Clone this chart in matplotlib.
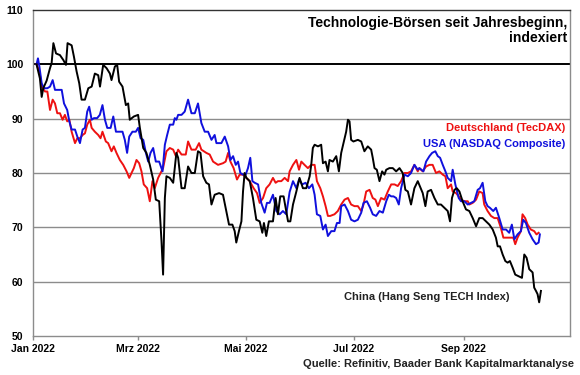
import numpy as np
import matplotlib
matplotlib.use("Agg")
import matplotlib.pyplot as plt
import matplotlib.dates as mdates

plt.rcParams['font.family'] = ['Liberation Sans', 'DejaVu Sans']

# ---- data: days since 2022-01-01 and index values (start = 100) ----
china_days = [2, 3.9, 4.9, 5.8, 7.7, 9.6, 10.5, 11.5, 13.0, 15.2, 17.1, 18.6, 19.5, 21.8, 23.1, 24.6,
              26.1, 27.4, 29.3, 31.2, 33.1, 34.9, 36.8, 37.8, 39.6, 41.5, 43.4, 44.3, 46.2, 47.5, 48.6,
              50.5, 52.4, 53.7, 54.6, 56.9, 59.3, 60.3, 62.2, 64.0, 65.9, 67.8, 69.3, 71.2, 72.5, 73.4,
              74.4, 75.3, 77.2, 79.1, 80.9, 81.9, 83.8, 85.6, 87.5, 89.4, 91.3, 93.1, 94.5, 96.0, 97.8,
              99.3, 100.7, 102.5, 105.0, 107.2, 108.7, 110.6, 112.5, 113.8, 114.7, 116.2, 117.6, 118.5,
              119.4, 120.4, 122.3, 124.1, 126.0, 127.9, 129.4, 130.3, 131.6, 133.1, 135.4, 136.9, 138.2,
              139.5, 141.4, 142.9, 143.9, 145.2,
              146.7, 148.6, 150.4, 152.3, 154.2, 156.1, 157.0, 157.9, 158.9, 160.8, 162.6, 163.6, 165.1,
              166.4, 167.3, 169.2, 171.1, 172.6, 173.9, 175.2, 176.7, 177.7, 178.6, 179.5, 180.8, 183.3,
              185.2, 187.0, 188.9, 190.8, 191.7, 192.7, 194.0, 195.5, 197.0, 198.3, 199.3, 201.1, 203.0,
              204.9, 206.8, 208.6, 210.1, 211.5, 213.3, 215.2, 217.1,
              219.9, 221.4, 222.7, 224.6, 226.5, 228.4, 230.2, 232.1, 234.0, 235.3, 236.4, 237.8, 239.1,
              240.6, 242.4, 244.3, 246.2, 248.1, 250.0, 251.8, 253.7, 255.6, 257.5, 259.4, 261.2, 262.2,
              263.5, 265.0, 266.5, 267.8, 269.1, 270.6, 272.1, 274.0, 275.9, 277.2, 278.5, 280.0, 281.9,
              282.8, 283.8, 284.7, 285.6, 286.6]
china_vals = [100, 97.4, 94.0, 95.6, 97.0, 99.3, 100.2, 103.9, 102.0, 101.7, 100.8, 99.9, 103.9, 103.5,
              101.4, 98.7, 96.5, 93.5, 93.5, 95.6, 95.9, 98.3, 98.0, 95.9, 99.9, 99.3, 98.3, 97.1, 99.6,
              99.9, 96.8, 95.9, 92.5, 92.8, 89.8, 90.4, 90.7, 88.3, 84.6, 83.7, 81.5, 78.8, 75.1, 74.8,
              67.5, 61.3,
              75.4, 79.4, 79.1, 78.2, 83.7, 82.8, 77.2, 77.2, 81.2, 80.0, 80.0, 84.0, 83.7, 79.4, 78.2,
              77.9, 74.2, 76.0, 76.3, 76.0, 73.6, 70.5, 70.5, 69.3, 67.2, 69.3, 71.1, 76.6, 80.0, 79.1,
              78.5, 75.4, 71.4, 71.1, 69.0, 70.8, 68.4, 71.1, 71.1, 75.4, 72.4, 75.7, 75.7, 73.0, 71.1,
              71.1,
              74.2, 76.6, 79.1, 77.2, 77.2, 79.4, 81.5, 84.6, 85.2, 84.9, 85.2, 81.8, 82.1, 80.3, 82.4,
              82.1, 83.1, 80.3, 83.7, 85.5, 87.6, 89.8, 89.5, 86.1, 85.8, 86.1, 85.8, 84.0, 84.9, 84.3,
              82.8, 80.9, 80.6, 78.5, 80.3, 79.7, 80.6, 80.9, 80.9, 80.3, 80.9, 80.0, 76.9, 76.6, 74.2,
              77.2, 78.5,
              76.3, 73.9, 76.6, 76.9, 75.4, 74.2, 74.2, 73.6, 73.0, 71.1, 75.4, 76.9, 77.2, 76.6, 74.8,
              73.3, 73.0, 71.7, 70.2, 71.7, 71.7, 71.1, 70.5, 69.6, 68.1, 66.5, 66.5, 65.0, 63.8, 63.5,
              63.8, 62.6, 61.3, 61.0, 60.7, 65.0, 64.4, 62.3, 61.7, 58.9, 58.3, 57.7, 56.2, 58.3]

germany_days = [2, 3.6, 4.9, 6.8, 8.1, 9.6, 11.1, 12.4, 13.7, 15.2, 16.7, 18.0, 19.3, 20.5, 21.8, 23.7,
                25.0, 26.5, 28.0, 29.3, 30.6, 32.1, 33.1, 34.9, 36.8, 38.1, 39.2, 41.1, 42.4, 44.3, 45.6,
                47.1, 49.0, 50.9, 52.8, 54.3, 55.6, 56.9, 58.4, 59.9, 61.2, 62.5, 64.4, 65.9, 67.4, 68.7,
                70.6,
                73.4, 75.3, 77.2, 79.1, 80.6, 81.9, 83.8, 86.2, 87.5, 89.4, 91.8, 93.7, 95.0, 97.8, 99.7,
                101.6, 104.4, 107.2, 108.7, 110.1, 111.4, 113.2, 115.1, 116.6, 118.5, 120.4, 122.3, 124.5,
                126.4, 127.9, 129.8, 131.6, 133.5, 135.4, 136.9, 138.2, 140.1, 142.0, 143.9,
                144.8, 146.7, 148.6, 150.1, 151.4, 153.2, 155.1, 157.0, 158.9, 160.2, 162.1, 163.6, 165.1,
                166.4, 167.7, 170.1, 172.0, 173.9, 175.8, 177.7, 179.5, 181.4, 183.3, 185.2, 186.5, 188.0,
                189.9, 191.7, 193.2, 194.6, 196.4, 198.3, 200.2, 202.1, 204.0, 205.8, 207.7, 209.6, 211.5,
                213.3, 215.2, 217.1,
                218.0, 219.9, 221.8, 223.7, 225.5, 227.4, 229.3, 231.2, 232.7, 234.0, 235.9, 236.8, 238.7,
                240.2, 241.5, 243.4, 245.3, 246.2, 248.1, 250.0, 251.8, 253.7, 254.6, 256.5, 258.4, 260.3,
                262.2, 264.0, 265.4, 267.2, 269.1, 271.0, 272.1, 273.4, 275.3, 276.2, 277.7, 279.1, 280.9,
                282.8, 284.1, 285.3]
germany_vals = [100, 98.7, 95.9, 95.0, 95.0, 91.6, 93.5, 92.8, 91.0, 91.0, 89.8, 90.7, 89.5, 89.8, 87.6,
                85.5, 86.4, 86.4, 87.0, 87.3, 88.9, 89.8, 88.3, 87.6, 87.0, 86.4, 87.6, 85.8, 85.5, 84.0,
                84.9, 83.7, 82.4, 81.5, 80.3, 79.1, 80.0, 80.9, 82.4, 81.8, 80.3, 77.9, 77.2, 74.8, 78.5,
                77.2, 79.1,
                80.9, 84.0, 84.6, 84.3, 83.1, 84.3, 83.4, 83.4, 85.8, 84.3, 84.3, 85.5, 84.3, 83.7, 83.4,
                82.1, 81.5, 81.8, 82.1, 83.7, 82.1, 80.9, 78.8, 79.7, 79.7, 79.1, 78.5, 77.2, 76.3, 74.5,
                75.4, 77.2, 77.9, 79.1, 78.2, 78.5, 78.5, 79.1, 78.5,
                80.3, 81.5, 82.4, 80.6, 82.1, 81.5, 80.9, 81.5, 81.5, 78.5, 77.2, 75.7, 73.9, 72.1, 72.1,
                72.4, 73.0, 74.2, 75.1, 75.4, 74.2, 73.9, 73.9, 73.0, 74.2, 76.6, 76.9, 75.4, 75.1, 73.9,
                75.4, 75.1, 76.6, 77.9, 77.9, 77.6, 78.5, 80.0, 80.0, 80.3, 81.5, 80.3,
                80.9, 80.3, 81.2, 81.5, 81.5, 80.0, 80.3, 79.7, 79.4, 77.2, 77.9, 76.6, 76.3, 75.7, 75.1,
                74.8, 74.8, 74.2, 74.5, 75.1, 76.6, 76.3, 74.2, 73.0, 72.1, 71.7, 71.7, 69.9, 68.1, 68.1,
                68.1, 68.1, 66.9, 68.1, 69.3, 72.4, 71.7, 70.5, 69.6, 69.3, 68.7, 69.0]

usa_days = [2, 2.8, 3.6, 4.9, 6.2, 8.1, 9.6, 11.1, 12.4, 14.3, 16.2, 17.5, 19.3, 20.5, 21.8, 23.7, 25.0,
            26.5, 28.0, 29.3, 30.6, 31.7, 33.1, 34.4, 36.2, 37.7, 39.2, 40.6, 41.9, 43.8, 45.3, 46.8,
            48.6, 50.5, 51.8, 53.1, 54.3, 56.1, 58.0, 59.3, 60.7, 62.2, 63.7, 65.0, 66.3, 67.8, 69.3,
            71.2,
            73.1, 74.4, 75.7, 77.2, 79.1, 80.0, 80.9, 81.9, 83.8, 85.6, 87.5, 89.4, 91.3, 93.1, 95.0,
            96.9, 98.8, 100.7, 102.5, 103.5, 106.3, 108.2, 110.1, 111.4, 112.9, 114.4, 115.7, 117.0,
            118.5, 120.0, 121.3, 122.6, 123.8, 125.1, 127.0, 128.8, 130.7, 132.0, 133.5, 135.4, 137.3,
            139.2, 141.0, 142.9, 144.8,
            146.7, 148.6, 150.1, 151.9, 153.8, 155.7, 157.6, 158.9, 160.2, 162.1, 163.6, 165.1, 166.4,
            168.3, 170.1, 171.5, 173.0, 173.9, 175.8, 177.7, 179.5, 181.4, 183.3, 185.2, 186.5, 188.4,
            190.2, 191.7, 193.6, 195.5, 197.4, 199.3, 200.8, 202.1, 203.4, 204.9, 206.4, 207.7, 209.6,
            211.5, 213.3, 215.2, 217.1,
            218.0, 220.3, 221.8, 223.7, 225.2, 227.0, 228.4, 229.7, 231.2, 232.7, 234.0, 235.9, 236.8,
            238.3, 240.2, 241.5, 243.4, 245.3, 247.1, 249.0, 250.9, 252.2, 253.7, 255.2, 256.5, 257.8,
            259.7, 261.2, 263.1, 265.0, 266.9, 268.7, 270.2, 271.6, 273.4, 275.3, 276.6, 278.1, 280.0,
            281.9, 283.8, 285.3, 286.0]
usa_vals = [100, 101.1, 99.6, 96.5, 95.6, 95.6, 95.9, 97.1, 95.3, 95.3, 95.3, 92.8, 91.6, 89.5, 88.0,
            88.0, 86.7, 85.5, 88.0, 88.3, 91.3, 92.2, 89.8, 90.1, 90.1, 90.7, 92.5, 89.8, 88.3, 88.3,
            90.4, 87.6, 87.6, 87.6, 86.1, 83.7, 86.7, 87.6, 87.6, 88.3, 86.4, 86.1, 83.7, 82.1, 83.7,
            84.6, 82.1, 82.1,
            80.3, 85.2, 87.0, 88.9, 88.9, 90.1, 89.8, 90.7, 90.7, 91.3, 93.5, 91.0, 91.0, 92.8, 89.2,
            87.6, 87.6, 86.1, 87.0, 85.5, 85.5, 86.7, 84.9, 82.4, 83.1, 81.5, 82.1, 80.0, 79.7, 79.7,
            80.9, 82.8, 78.5, 78.2, 77.9, 74.5, 72.7, 74.5, 74.5, 76.0, 73.0, 72.4, 73.0, 72.4, 76.5,
            78.5, 77.2, 78.8, 77.9, 78.2, 77.2, 77.9, 76.0, 72.4, 72.1, 69.6, 70.5, 68.4, 69.3, 69.3,
            70.8, 70.8, 73.9, 74.2, 73.0, 71.4, 71.1, 71.4, 72.7, 74.5, 74.8, 73.6, 72.4, 72.1, 73.0,
            72.7, 74.8, 76.0, 75.7, 75.7, 75.4, 74.2, 77.2, 79.7, 79.4, 80.0, 81.5, 80.6,
            80.9, 80.3, 82.1, 83.1, 83.7, 84.0, 83.1, 82.8, 81.5, 80.3, 79.1, 78.5, 80.6, 77.9, 75.4,
            74.8, 74.8, 74.2, 74.5, 74.8, 76.9, 77.2, 78.2, 74.8, 73.9, 73.6, 73.0, 73.6, 71.7, 69.6,
            69.6, 69.0, 70.5, 67.8, 68.7, 69.3, 71.4, 70.8, 69.0, 67.8, 66.9, 67.2, 68.7]

month_ticks = ['2022-01-01', '2022-03-01', '2022-05-01', '2022-07-01', '2022-09-01']
month_labels = ['Jan 2022', 'Mrz 2022', 'Mai 2022', 'Jul 2022', 'Sep 2022']
y_ticks = [50, 60, 70, 80, 90, 100, 110]

title = "Technologie-Börsen seit Jahresbeginn,\nindexiert"
label_de = "Deutschland (TecDAX)"
label_us = "USA (NASDAQ Composite)"
label_cn = "China (Hang Seng TECH Index)"
source = "Quelle: Refinitiv, Baader Bank Kapitalmarktanalyse"

# ---- plotting ----
base = mdates.date2num(np.datetime64('2022-01-01'))
def to_x(days):
    return base + np.asarray(days, dtype=float)

fig = plt.figure(figsize=(5.8, 3.75), dpi=100)
ax = fig.add_axes([33/580, 39/375, 537/580, 326/375])

grid_col = '#8c8c8c'
for v in y_ticks[1:-1]:
    if v == 100:
        ax.axhline(v, color='black', lw=1.4, zorder=1)
    else:
        ax.axhline(v, color=grid_col, lw=1.0, zorder=1)

lw = 1.4
ax.plot(to_x(germany_days), germany_vals, color='#ee1111', lw=lw, zorder=3)
ax.plot(to_x(usa_days), usa_vals, color='#1010dd', lw=lw, zorder=4)
ax.plot(to_x(china_days), china_vals, color='black', lw=lw, zorder=5)

ax.set_ylim(50, 110)
ax.set_xlim(base, mdates.date2num(np.datetime64('2022-10-31')))
ax.set_yticks(y_ticks)
ax.set_yticklabels([str(v) for v in y_ticks], fontsize=7.5, fontweight='bold')
ax.set_xticks([mdates.date2num(np.datetime64(d)) for d in month_ticks])
ax.set_xticklabels(month_labels, fontsize=7.5, fontweight='bold')
ax.tick_params(axis='y', length=0, pad=7)
ax.tick_params(axis='x', length=3, width=1, color=grid_col, pad=3)

for s in ['left', 'bottom', 'right']:
    ax.spines[s].set_color(grid_col)
    ax.spines[s].set_linewidth(1.0)
ax.spines['top'].set_color('#333333')
ax.spines['top'].set_linewidth(1.0)

ax.text(0.9944, 0.982, title, transform=ax.transAxes, ha='right', va='top',
        fontsize=10, fontweight='bold', linespacing=1.1, zorder=6)
ax.text(0.9907, 0.638, label_de, transform=ax.transAxes, ha='right', va='center',
        fontsize=8, fontweight='bold', color='#ee1111', zorder=6)
ax.text(0.9907, 0.589, label_us, transform=ax.transAxes, ha='right', va='center',
        fontsize=8, fontweight='bold', color='#1010dd', zorder=6)
ax.text(0.734, 0.12, label_cn, transform=ax.transAxes, ha='center', va='center',
        fontsize=8, fontweight='bold', color='#222222', zorder=6)
fig.text(0.99, 0.029, source, ha='right', va='center', fontsize=8, fontweight='bold',
         color='#222222')

fig.savefig('out.png', dpi=100)
